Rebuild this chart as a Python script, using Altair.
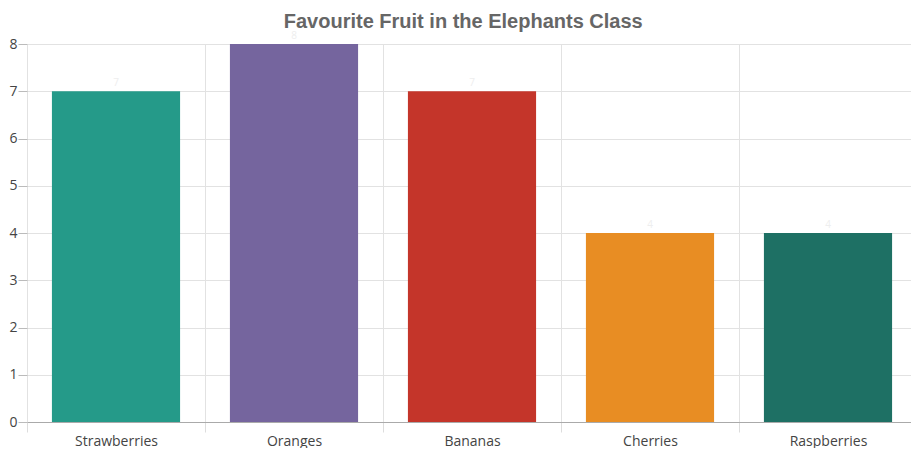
import altair as alt
import pandas as pd

fruits = ["Strawberries", "Oranges", "Bananas", "Cherries", "Raspberries"]
votes = [7, 8, 7, 4, 4]
colors = ["#259a89", "#75659e", "#c4352a", "#e88d23", "#1e7064"]

df = pd.DataFrame({"fruit": fruits, "votes": votes})

x = alt.X("fruit:N", sort=fruits, title=None,
          scale=alt.Scale(paddingInner=0, paddingOuter=0),
          axis=alt.Axis(labelAngle=0, tickBand="extent", grid=True, gridColor="#e2e2e2",
                        tickColor="#dddddd", tickSize=10, domainColor="#aaaaaa",
                        labelFont="Open Sans", labelFontSize=14, labelColor="#444444",
                        labelPadding=2))
y = alt.Y("votes:Q", title=None,
          scale=alt.Scale(domain=[0, 8]),
          axis=alt.Axis(values=list(range(0, 9)), gridColor="#e2e2e2", domain=False,
                        tickColor="#bbbbbb", tickSize=9,
                        labelFont="Open Sans", labelFontSize=14, labelColor="#444444",
                        labelPadding=1))

bars = alt.Chart(df).mark_bar(width=alt.RelativeBandSize(0.72), stroke=None).encode(
    x=x, y=y,
    color=alt.Color("fruit:N", sort=fruits, scale=alt.Scale(domain=fruits, range=colors), legend=None),
)
labels = alt.Chart(df).mark_text(dy=-8, fontSize=10, color="#eeeeee", font="Open Sans").encode(
    x=alt.X("fruit:N", sort=fruits), y="votes:Q", text="votes:Q"
)

chart = (bars + labels).properties(
    width=890, height=378,
    padding={"left": 0, "top": 4, "right": -7, "bottom": 0},
    title=alt.TitleParams("Favourite Fruit in the Elephants Class", font="Liberation Sans",
                          fontSize=20, fontWeight="bold", color="#666666", offset=-1,
                          anchor="middle", frame="bounds"),
).configure_view(stroke=None)

chart.save("out.html", embed_options={"renderer": "svg", "actions": False})
